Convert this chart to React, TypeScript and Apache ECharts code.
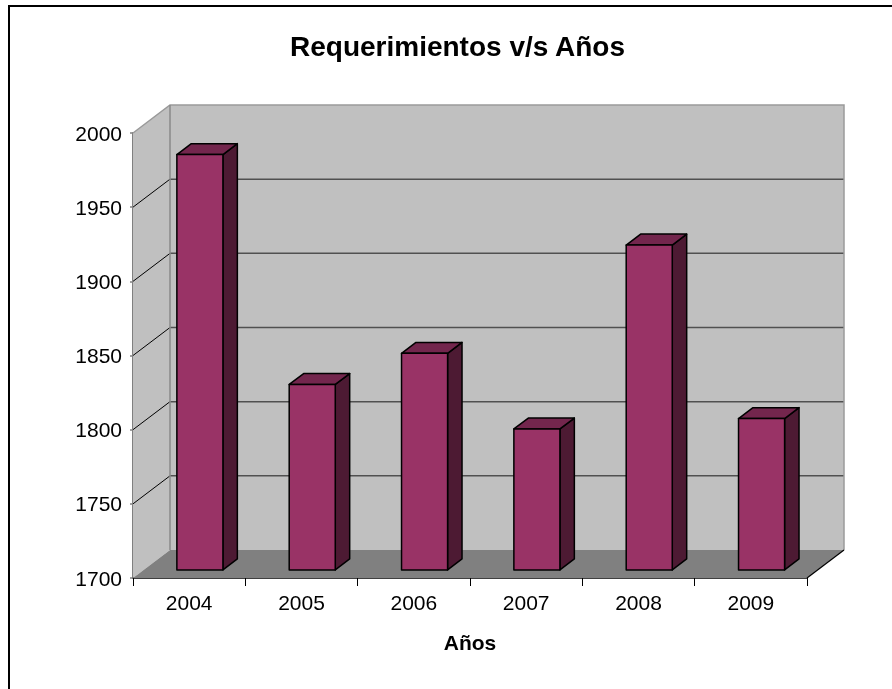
import React, { useEffect, useRef } from "react";
import * as echarts from "echarts";

const years = ["2004", "2005", "2006", "2007", "2008", "2009"];
const requerimientos = [1980, 1825, 1846, 1795, 1919, 1802];
const yMin = 1700;
const yMax = 2000;
const yStep = 50;
const yTicks = [1700, 1750, 1800, 1850, 1900, 1950, 2000];

const FONT = "'Liberation Sans', Arial, sans-serif";
const DX = 37;
const DY = -28;
const FRONT = 0.29;
const BACK = 0.68;
const BAR_RATIO = 0.41;

export default function App() {
  const ref = useRef<HTMLDivElement>(null);
  useEffect(() => {
    if (!ref.current) return;
    const chart = echarts.init(ref.current, null, { renderer: "svg" });
    const n = years.length;

    const wallsRender = (params: any, api: any) => {
      const bw = api.size([1, 0])[0];
      const x0 = api.coord([0, yMin])[0] - bw / 2;
      const x1 = api.coord([n - 1, yMin])[0] + bw / 2;
      const yB = api.coord([0, yMin])[1];
      const yT = api.coord([0, yMax])[1];
      const children: any[] = [];
      children.push({
        type: "polygon",
        shape: { points: [[x0 + DX, yT + DY], [x1 + DX, yT + DY], [x1 + DX, yB + DY], [x0 + DX, yB + DY]] },
        style: { fill: "#C0C0C0", stroke: "none" },
      });
      children.push({
        type: "polygon",
        shape: { points: [[x0, yT], [x0 + DX, yT + DY], [x0 + DX, yB + DY], [x0, yB]] },
        style: { fill: "#C0C0C0", stroke: "none" },
      });
      children.push({
        type: "polygon",
        shape: { points: [[x0, yB], [x1, yB], [x1 + DX, yB + DY], [x0 + DX, yB + DY]] },
        style: { fill: "#808080", stroke: "none" },
      });
      yTicks.forEach((v) => {
        const y = api.coord([0, v])[1];
        if (v > yMin && v < yMax) {
          children.push({
            type: "line",
            shape: { x1: x0 + DX, y1: y + DY, x2: x1 + DX, y2: y + DY },
            style: { stroke: "#505050", lineWidth: 1.5 },
          });
          children.push({
            type: "line",
            shape: { x1: x0, y1: y, x2: x0 + DX, y2: y + DY },
            style: { stroke: "#000000", lineWidth: 1 },
          });
        }
      });
      children.push({
        type: "polyline",
        shape: { points: [[x0, yT], [x0 + DX, yT + DY], [x1 + DX, yT + DY], [x1 + DX, yB + DY]] },
        style: { stroke: "#9A9A9A", lineWidth: 1.5, fill: "none" },
      });
      children.push({
        type: "line",
        shape: { x1: x0 + DX, y1: yT + DY, x2: x0 + DX, y2: yB + DY },
        style: { stroke: "#8A8A8A", lineWidth: 1.5 },
      });
      children.push({
        type: "line",
        shape: { x1: x1, y1: yB, x2: x1 + DX, y2: yB + DY },
        style: { stroke: "#000000", lineWidth: 1.2 },
      });
      return { type: "group", children };
    };

    const barsRender = (params: any, api: any) => {
      const idx = api.value(0);
      const val = api.value(1);
      const bw = api.size([1, 0])[0];
      const cx = api.coord([idx, yMin])[0];
      const yB = api.coord([idx, yMin])[1];
      const yV = api.coord([idx, val])[1];
      const w = bw * BAR_RATIO;
      const L = cx + DX * FRONT - w / 2;
      const R = L + w;
      const T = yV + DY * FRONT;
      const B = yB + DY * FRONT;
      const dx = DX * (BACK - FRONT);
      const dy = DY * (BACK - FRONT);
      const edge = { stroke: "#000000", lineWidth: 1.5, lineJoin: "round" };
      return {
        type: "group",
        children: [
          {
            type: "polygon",
            shape: { points: [[R, T], [R + dx, T + dy], [R + dx, B + dy], [R, B]] },
            style: { fill: "#4D1A33", ...edge },
          },
          {
            type: "polygon",
            shape: { points: [[L, T], [R, T], [R + dx, T + dy], [L + dx, T + dy]] },
            style: { fill: "#73264D", ...edge },
          },
          {
            type: "polygon",
            shape: { points: [[L, T], [R, T], [R, B], [L, B]] },
            style: { fill: "#993366", ...edge },
          },
        ],
      };
    };

    chart.setOption({
      animation: false,
      title: {
        text: "Requerimientos v/s Años",
        left: 290,
        top: 32,
        padding: 0,
        textStyle: { fontFamily: FONT, fontSize: 28, fontWeight: "bold", color: "#000" },
      },
      graphic: [
        {
          type: "rect",
          shape: { x: 9, y: 6, width: 2000, height: 2000 },
          style: { fill: "none", stroke: "#000", lineWidth: 2 },
          silent: true,
        },
      ],
      grid: { left: 133, right: 85, top: 133, bottom: 111, containLabel: false },
      xAxis: {
        type: "category",
        data: years,
        boundaryGap: true,
        name: "Años",
        nameLocation: "middle",
        nameGap: 54,
        nameTextStyle: { fontFamily: FONT, fontSize: 21, fontWeight: "bold", color: "#000" },
        axisLine: { show: true, lineStyle: { color: "#000", width: 1.5 } },
        axisTick: { show: true, length: 8, lineStyle: { color: "#000", width: 1 } },
        axisLabel: { fontFamily: FONT, fontSize: 21, color: "#000", margin: 14 },
        splitLine: { show: false },
      },
      yAxis: {
        type: "value",
        min: yMin,
        max: yMax,
        interval: yStep,
        axisLine: { show: true, lineStyle: { color: "#808080", width: 2 } },
        axisTick: { show: true, length: 3, lineStyle: { color: "#808080", width: 1.5 } },
        axisLabel: {
          fontFamily: FONT,
          fontSize: 21,
          color: "#000",
          margin: 11,
          formatter: (v: number) => String(v),
        },
        splitLine: { show: false },
      },
      series: [
        {
          type: "custom",
          name: "walls",
          renderItem: wallsRender,
          data: [[0, yMin]],
          z: 1,
          silent: true,
        },
        {
          type: "custom",
          name: "Requerimientos",
          renderItem: barsRender,
          data: requerimientos.map((v, i) => [i, v]),
          encode: { x: 0, y: 1 },
          z: 2,
        },
      ],
    });
    return () => chart.dispose();
  }, []);
  return (
    <div
      ref={ref}
      style={{ position: "fixed", left: 0, top: 0, width: 892, height: 689 }}
    />
  );
}
